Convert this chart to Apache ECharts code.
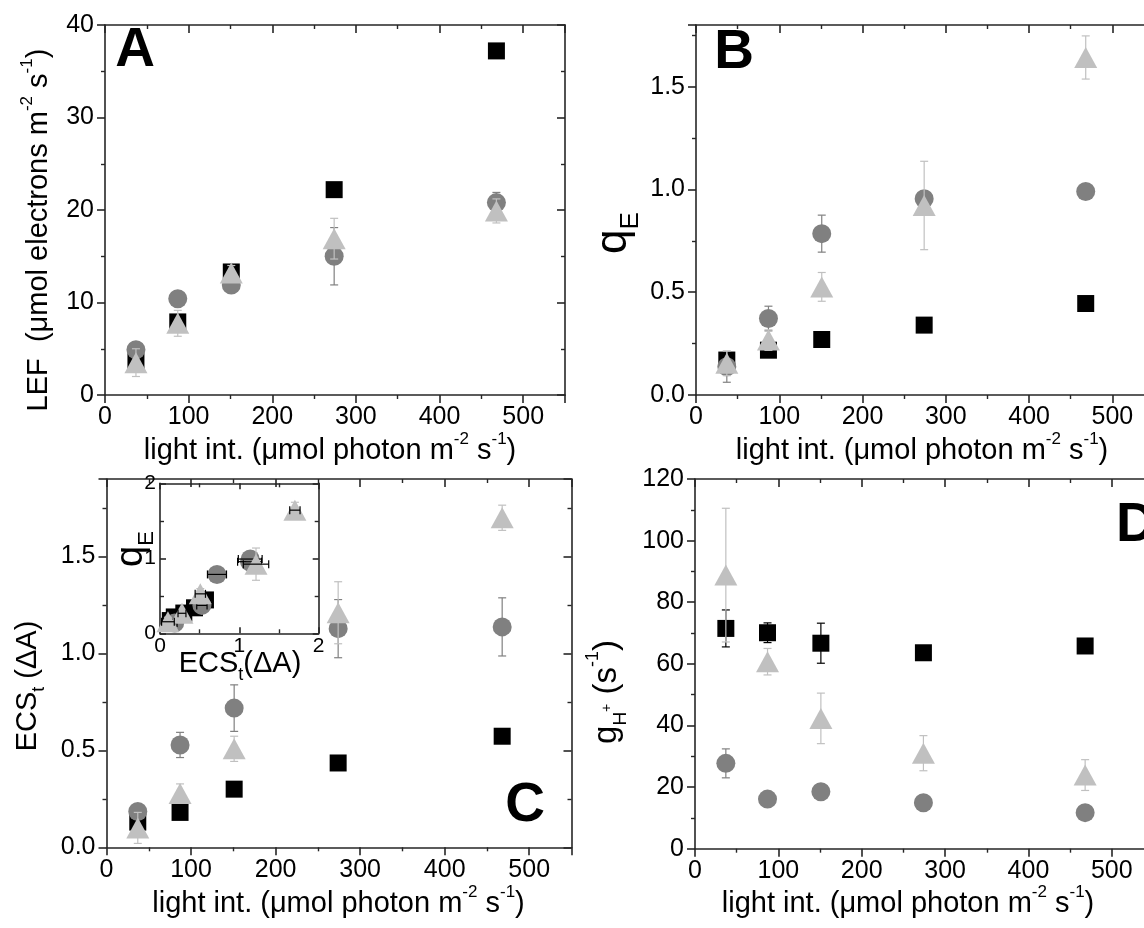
<!DOCTYPE html>
<html><head><meta charset="utf-8">
<script src="https://cdn.jsdelivr.net/npm/echarts@6/dist/echarts.min.js"></script>
<style>html,body{margin:0;padding:0;background:#fff}#c{width:1144px;height:928px}</style>
</head><body><div id="c"></div>
<script>
// ---------------- data ----------------
const lightInt = [37, 87, 151, 274, 468];

// Panel A: LEF (µmol electrons m-2 s-1)
const lefSquare      = [3.6, 7.9, 13.3, 22.2, 37.2];
const lefSquareErr   = [0.6, 0.4, 0.3, 0, 0];
const lefCircle      = [4.9, 10.4, 11.9, 15.0, 20.8];
const lefCircleErr   = [0.5, 0.4, 0.7, 3.1, 1.1];
const lefTriangle    = [3.5, 7.75, 13.2, 16.9, 19.9];
const lefTriangleErr = [1.5, 1.4, 0.8, 2.2, 1.3];

// Panel B: qE
const qeSquare      = [0.17, 0.218, 0.27, 0.34, 0.445];
const qeSquareErr   = [0.02, 0.03, 0.01, 0.01, 0.01];
const qeCircle      = [0.137, 0.372, 0.785, 0.955, 0.99];
const qeCircleErr   = [0.075, 0.06, 0.09, 0.03, 0.02];
const qeTriangle    = [0.154, 0.267, 0.526, 0.922, 1.642];
const qeTriangleErr = [0.06, 0.05, 0.07, 0.215, 0.105];

// Panel C: ECSt (dA)
const ecsSquare      = [0.13, 0.18, 0.30, 0.435, 0.573];
const ecsSquareErr   = [0.02, 0.02, 0.01, 0.01, 0.01];
const ecsCircle      = [0.185, 0.528, 0.718, 1.128, 1.137];
const ecsCircleErr   = [0.03, 0.065, 0.12, 0.15, 0.15];
const ecsTriangle    = [0.10, 0.277, 0.508, 1.21, 1.70];
const ecsTriangleErr = [0.08, 0.05, 0.065, 0.16, 0.065];

// Panel D: gH+ (s-1)
const ghSquare      = [71.5, 70.1, 66.7, 63.6, 65.8];
const ghSquareErr   = [6.0, 3.2, 6.5, 0, 0];
const ghCircle      = [27.7, 16.1, 18.5, 14.9, 11.7];
const ghCircleErr   = [4.7, 0.8, 0.8, 0, 0];
const ghTriangle    = [88.8, 60.7, 42.3, 31.0, 23.9];
const ghTriangleErr = [21.7, 4.3, 8.2, 5.7, 5.0];

// axis ranges [min, max, interval]
const xRange   = [0, 550, 100];
const yRangeA  = [0, 40, 10];
const yRangeB  = [0, 1.8, 0.5];
const yRangeC  = [0, 1.9, 0.5];
const yRangeD  = [0, 120, 20];
const insetRange = [0, 2, 1];

// ---------------- styling ----------------
const FONT = '"Liberation Sans", Arial, sans-serif';
const AXC = '#262626';
const COL = { sq: '#000000', ci: '#808080', tr: '#c0c0c0' };
const SYM = { sq: ['rect', 17], ci: ['circle', 19], tr: ['triangle', [23, 21]] };

const grids = [
  { left: 105,   top: 25,    width: 460,   height: 370 },   // A
  { left: 696,   top: 25,    width: 458,   height: 370 },   // B
  { left: 106.5, top: 479,   width: 465,   height: 368.3 }, // C
  { left: 695,   top: 479,   width: 458.5, height: 369.7 }, // D
  { left: 160,   top: 483.3, width: 158.7, height: 150 }    // inset
].map(g => Object.assign({ outerBoundsMode: 'none', containLabel: false, show: false }, g));

const xAxes = [], yAxes = [], series = [];

function lineSt() { return { color: AXC, width: 1.6 }; }

function addAxes(gi, xr, yr, o) {
  o = o || {};
  const fs = o.fontSize || 25;
  const inner = !!o.allInside;
  const fmt = o.yFmt || (v => String(v));
  const base = (r, pos, labels, inside, isX) => ({
    gridIndex: gi, type: 'value', position: pos,
    min: r[0], max: r[1], interval: r[2],
    axisLine: { show: true, onZero: false, lineStyle: lineSt() },
    axisTick: { show: true, inside: inside, length: o.tickLen || 8, lineStyle: lineSt() },
    minorTick: { show: true, splitNumber: 2, length: o.minorLen || 4, lineStyle: { color: AXC, width: 1.4 } },
    splitLine: { show: false }, minorSplitLine: { show: false },
    axisLabel: {
      show: labels, fontFamily: FONT, fontSize: fs, color: '#000',
      margin: isX ? (o.xMargin || 10) : (o.yMargin || 11),
      showMaxLabel: (r[1] % r[2] === 0), showMinLabel: true,
      formatter: isX ? (v => String(v)) : fmt
    },
    silent: true
  });
  const xi = xAxes.length, yi = yAxes.length;
  xAxes.push(base(xr, 'bottom', true, inner, true));
  xAxes.push(base(xr, 'top', false, true, true));
  yAxes.push(base(yr, 'left', true, inner, false));
  yAxes.push(base(yr, 'right', false, true, false));
  return { xi, yi };
}

function errRender(colX, colY) {
  return function (params, api) {
    const x = api.value(0), y = api.value(1), ex = api.value(2), ey = api.value(3);
    const ch = [];
    const cap = 4;
    if (ey > 0) {
      const a = api.coord([x, y + ey]), b = api.coord([x, y - ey]);
      const st = { stroke: colY, lineWidth: 1.2 };
      ch.push({ type: 'line', shape: { x1: a[0], y1: a[1], x2: b[0], y2: b[1] }, style: st });
      ch.push({ type: 'line', shape: { x1: a[0] - cap, y1: a[1], x2: a[0] + cap, y2: a[1] }, style: st });
      ch.push({ type: 'line', shape: { x1: b[0] - cap, y1: b[1], x2: b[0] + cap, y2: b[1] }, style: st });
    }
    if (ex > 0) {
      const a = api.coord([x - ex, y]), b = api.coord([x + ex, y]);
      const st = { stroke: colX, lineWidth: 1.2 };
      ch.push({ type: 'line', shape: { x1: a[0], y1: a[1], x2: b[0], y2: b[1] }, style: st });
      ch.push({ type: 'line', shape: { x1: a[0], y1: a[1] - cap, x2: a[0], y2: a[1] + cap }, style: st });
      ch.push({ type: 'line', shape: { x1: b[0], y1: b[1] - cap, x2: b[0], y2: b[1] + cap }, style: st });
    }
    return { type: 'group', children: ch };
  };
}

let zc = 2;
function addSeries(ax, kind, xs, ys, exs, eys, colX) {
  const pts = xs.map((x, i) => [x, ys[i]]);
  series.push({
    type: 'scatter', xAxisIndex: ax.xi, yAxisIndex: ax.yi, z: zc++,
    symbol: SYM[kind][0], symbolSize: SYM[kind][1],
    itemStyle: { color: COL[kind], opacity: 1 },
    data: pts, silent: true
  });
  const ed = xs.map((x, i) => [x, ys[i], exs ? exs[i] : 0, eys ? eys[i] : 0]);
  series.push({
    type: 'custom', xAxisIndex: ax.xi, yAxisIndex: ax.yi, z: zc++,
    renderItem: errRender(colX || COL[kind], COL[kind]),
    encode: { x: 0, y: 1 }, dimensions: ['x', 'y', 'ex', 'ey'],
    data: ed, silent: true, clip: false
  });
}

const fmt1 = v => v.toFixed(1);
const axA = addAxes(0, xRange, yRangeA);
const axB = addAxes(1, xRange, yRangeB, { yFmt: fmt1 });
const axC = addAxes(2, xRange, yRangeC, { yFmt: fmt1 });
const axD = addAxes(3, xRange, yRangeD);
const axI = addAxes(4, insetRange, insetRange, { fontSize: 21, allInside: true, xMargin: 2, yMargin: 4, tickLen: 6, minorLen: 4 });

addSeries(axA, 'sq', lightInt, lefSquare, null, lefSquareErr);
addSeries(axA, 'ci', lightInt, lefCircle, null, lefCircleErr);
addSeries(axA, 'tr', lightInt, lefTriangle, null, lefTriangleErr);

addSeries(axB, 'sq', lightInt, qeSquare, null, qeSquareErr);
addSeries(axB, 'ci', lightInt, qeCircle, null, qeCircleErr);
addSeries(axB, 'tr', lightInt, qeTriangle, null, qeTriangleErr);

addSeries(axC, 'sq', lightInt, ecsSquare, null, ecsSquareErr);
addSeries(axC, 'ci', lightInt, ecsCircle, null, ecsCircleErr);
addSeries(axC, 'tr', lightInt, ecsTriangle, null, ecsTriangleErr);

addSeries(axD, 'sq', lightInt, ghSquare, null, ghSquareErr);
addSeries(axD, 'ci', lightInt, ghCircle, null, ghCircleErr);
addSeries(axD, 'tr', lightInt, ghTriangle, null, ghTriangleErr);

// inset: qE versus ECSt
addSeries(axI, 'sq', ecsSquare, qeSquare, ecsSquareErr, qeSquareErr, '#000');
addSeries(axI, 'ci', ecsCircle, qeCircle, ecsCircleErr, qeCircleErr, '#000');
addSeries(axI, 'tr', ecsTriangle, qeTriangle, ecsTriangleErr, qeTriangleErr, '#000');

// ---------------- texts ----------------
function rich(main, sub, sup, lh) {
  return {
    m:   { fontSize: main, fontFamily: FONT, fill: '#000', lineHeight: lh },
    sup: { fontSize: sup, fontFamily: FONT, fill: '#000', lineHeight: Math.round(lh * 0.5), verticalAlign: 'top' },
    sub: { fontSize: sub, fontFamily: FONT, fill: '#000', lineHeight: Math.round(lh * 0.55), verticalAlign: 'bottom' },
    pl:  { fontSize: Math.round(sup * 0.8), fontFamily: FONT, fill: '#000', lineHeight: Math.round(sup * 0.8) }
  };
}
function txt(x, y, rot, text, r) {
  return { type: 'text', x: x, y: y, rotation: rot, silent: true, z: 100,
    style: { text: text, rich: r, align: 'center', verticalAlign: 'middle', fill: '#000' } };
}
function letter(x, y, t, align) {
  return { type: 'text', x: x, y: y, silent: true, z: 100,
    style: { text: t, fontFamily: FONT, fontWeight: 'bold', fontSize: 55, fill: '#000',
      align: align || 'center', verticalAlign: 'middle' } };
}
const R = Math.PI / 2;
const xTitle = '{m|light int. (μmol photon m}{sup|-2}{m| s}{sup|-1}{m|)}';
const rx = rich(29, 17, 17, 40);

const graphic = [
  txt(330, 451, 0, xTitle, rx),
  txt(922, 451, 0, xTitle, rx),
  txt(338.5, 904, 0, xTitle, rx),
  txt(908, 904, 0, xTitle, rx),
  txt(39, 230, R, '{m|LEF  (μmol electrons m}{sup|-2}{m| s}{sup|-1}{m|)}', rx),
  txt(614, 233, R, '{m|q}{sub|E}', rich(44, 26, 20, 60)),
  txt(28, 686, R, '{m|ECS}{sub|t}{m| (ΔA)}', rich(29, 18, 17, 40)),
  txt(607, 692, R, '{m|g}{sub|H}{pl|+}{m| (s}{sup|-1}{m|)}', rich(33, 19, 18, 46)),
  txt(240, 664, 0, '{m|ECS}{sub|t}{m|(ΔA)}', rich(29, 18, 16, 40)),
  txt(132, 549, R, '{m|q}{sub|E}', rich(38, 22, 18, 52)),
  letter(135, 51, 'A'),
  letter(734, 53, 'B'),
  letter(525, 806, 'C'),
  letter(1116, 526, 'D', 'left')
];

const chart = echarts.init(document.getElementById('c'), null, { renderer: 'canvas' });
chart.setOption({
  backgroundColor: '#ffffff',
  animation: false,
  grid: grids,
  xAxis: xAxes,
  yAxis: yAxes,
  series: series,
  graphic: graphic
});
</script></body></html>
